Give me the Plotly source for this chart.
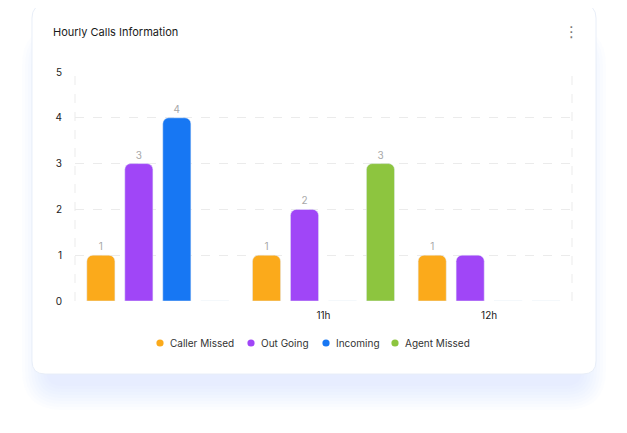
import plotly.graph_objects as go

# datos
horas = ["10h", "11h", "12h"]
horas_texto = ["", "11h", "12h"]

caller_missed = [1, 1, 1]
out_going = [3, 2, 1]
incoming = [4, 0, 0]
agent_missed = [0, 3, 0]

# etiquetas sobre las barras (la ultima morada no se ve en el original)
lbl_caller = ["1", "1", "1"]
lbl_out = ["3", "2", ""]
lbl_incoming = ["4", "", ""]
lbl_agent = ["", "3", ""]

series = [
    ("Caller Missed", caller_missed, lbl_caller, "#FBAA1B"),
    ("Out Going", out_going, lbl_out, "#A046F7"),
    ("Incoming", incoming, lbl_incoming, "#1777F3"),
    ("Agent Missed", agent_missed, lbl_agent, "#8DC53F"),
]

# la pagina tiene 8px de margen en el body, todo se corre 8px
OFF = 8
W, H = 627 - OFF, 433 - OFF
L, R, T, B = 75 - OFF, 55, 72 - OFF, 132
PW, PH = W - L - R, H - T - B


def X(px):
    return (px - OFF - L) / PW


def Y(py):
    return (H - B - (py - OFF)) / PH


def rect_redondo(x0, y0, x1, y1, r):
    # camino svg de un rectangulo con esquinas redondeadas (en pixeles -> paper)
    pts = [
        "M", X(x0 + r), Y(y0),
        "L", X(x1 - r), Y(y0),
        "Q", X(x1), Y(y0), X(x1), Y(y0 + r),
        "L", X(x1), Y(y1 - r),
        "Q", X(x1), Y(y1), X(x1 - r), Y(y1),
        "L", X(x0 + r), Y(y1),
        "Q", X(x0), Y(y1), X(x0), Y(y1 - r),
        "L", X(x0), Y(y0 + r),
        "Q", X(x0), Y(y0), X(x0 + r), Y(y0),
        "Z",
    ]
    out = ""
    for p in pts:
        out += (p if isinstance(p, str) else "%.5f" % p) + " "
    return out.strip()


fig = go.Figure()

for nombre, vals, lbls, color in series:
    fig.add_trace(go.Bar(
        x=horas, y=vals, name=nombre,
        marker=dict(color=color, cornerradius=6),
        text=lbls, textposition="outside",
        textfont=dict(size=10, color="#a8a8a8"),
        cliponaxis=False, showlegend=False, hoverinfo="skip",
    ))

formas = []
# sombra azulada de la tarjeta
for i in range(9):
    d = 3 * i
    formas.append(dict(
        type="path", xref="paper", yref="paper", layer="below",
        path=rect_redondo(46 - d, 44 - d + 6, 582 + d, 386 + d, 16 + d),
        fillcolor="rgba(200,218,250,0.06)", line=dict(width=0),
    ))
# tarjeta
formas.append(dict(
    type="path", xref="paper", yref="paper", layer="below",
    path=rect_redondo(32, 5, 596, 374, 13),
    fillcolor="white", line=dict(color="#e8eef8", width=1),
))
# bordes verticales punteados del area del grafico
for xv in [0, 1]:
    formas.append(dict(
        type="line", xref="paper", yref="paper", x0=xv, x1=xv, y0=0, y1=1,
        line=dict(color="#ebebeb", width=1, dash="dash"), layer="below",
    ))

notas = [
    dict(text="Hourly Calls Information", x=X(51), y=Y(32), xref="paper", yref="paper",
         xanchor="left", yanchor="middle", showarrow=False,
         font=dict(size=11, color="#1a1a1a")),
    dict(text="⋮", x=X(571), y=Y(32), xref="paper", yref="paper",
         xanchor="center", yanchor="middle", showarrow=False,
         font=dict(size=15, color="#777", family="DejaVu Sans")),
]

# leyenda con circulos, como en el original
leyenda_x = [160, 251, 326, 395]
leyenda_y = 343
for (nombre, vals, lbls, color), lx in zip(series, leyenda_x):
    formas.append(dict(
        type="circle", xref="paper", yref="paper",
        xsizemode="pixel", ysizemode="pixel",
        xanchor=X(lx), yanchor=Y(leyenda_y), x0=-3.6, x1=3.6, y0=-3.6, y1=3.6,
        fillcolor=color, line=dict(width=0),
    ))
    notas.append(dict(
        text=nombre, x=X(lx + 8), y=Y(leyenda_y), xref="paper", yref="paper",
        xanchor="left", yanchor="middle", showarrow=False,
        font=dict(size=10, color="#333"),
    ))

fig.update_layout(
    width=W, height=H,
    margin=dict(l=L, r=R, t=T, b=B),
    paper_bgcolor="white", plot_bgcolor="rgba(0,0,0,0)",
    font=dict(family="Inter, Lato, sans-serif", color="#222"),
    barmode="group", bargap=0.083, bargroupgap=0.26,
    shapes=formas, annotations=notas,
    showlegend=False,
)

fig.update_xaxes(
    type="category", tickvals=horas, ticktext=horas_texto,
    showgrid=False, zeroline=False, showline=False, ticks="",
    tickfont=dict(size=10, color="#222"), ticklabelstandoff=7, fixedrange=True,
)
fig.update_yaxes(
    range=[0, 5], dtick=1, showgrid=True, gridcolor="#ebebeb", griddash="dash",
    zeroline=False, showline=False, ticks="",
    tickfont=dict(size=10, color="#222"), ticklabelstandoff=12, fixedrange=True,
)

fig.write_html("out.html")
